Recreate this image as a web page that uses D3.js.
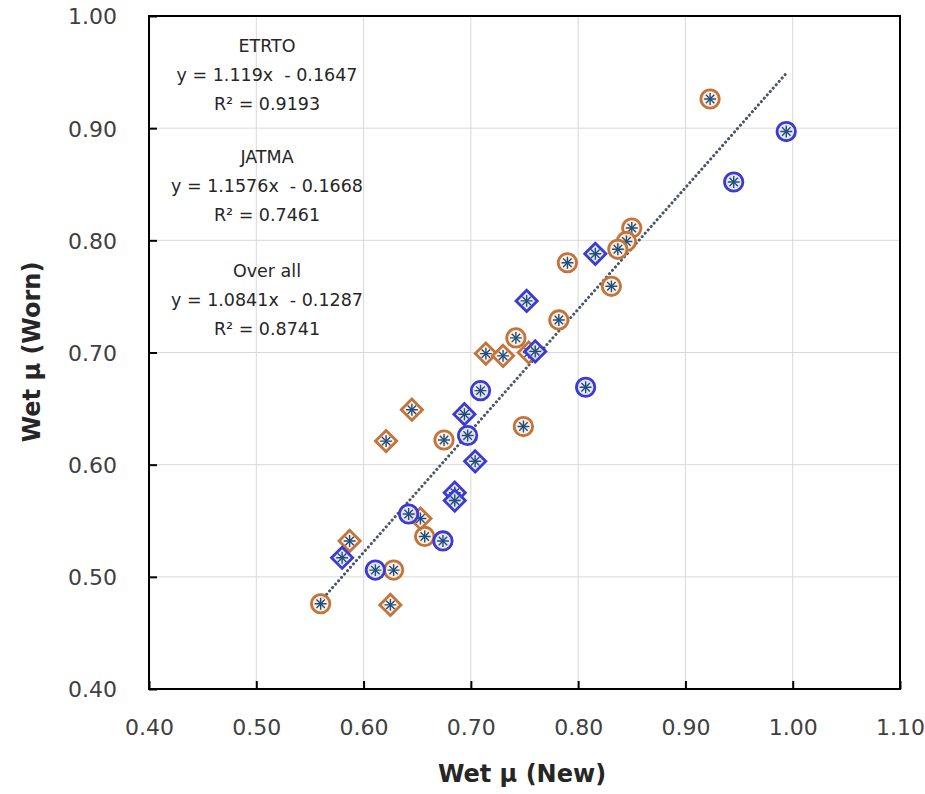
<!DOCTYPE html>
<html>
<head>
<meta charset="utf-8">
<script src="https://cdn.jsdelivr.net/npm/d3@7"></script>
<style>
  html, body { margin: 0; padding: 0; background: #fff; }
  svg { display: block; }
  text { font-family: "DejaVu Sans", sans-serif; }
</style>
</head>
<body>
<svg id="chart" width="925" height="794"></svg>
<script>
// ---- Data ----
const xTicks = [0.40, 0.50, 0.60, 0.70, 0.80, 0.90, 1.00, 1.10];
const yTicks = [0.40, 0.50, 0.60, 0.70, 0.80, 0.90, 1.00];

// Blue circles: [Wet mu (New), Wet mu (Worn)]
const blueCircleX = [0.709, 0.697, 0.642, 0.674, 0.611, 0.807, 0.994, 0.945];
const blueCircleY = [0.666, 0.626, 0.556, 0.532, 0.506, 0.669, 0.897, 0.852];

// Blue diamonds
const blueDiamondX = [0.694, 0.704, 0.685, 0.685, 0.580, 0.816, 0.752, 0.760];
const blueDiamondY = [0.645, 0.603, 0.575, 0.568, 0.517, 0.788, 0.746, 0.701];

// Orange circles
const orangeCircleX = [0.675, 0.749, 0.657, 0.628, 0.560, 0.850, 0.845, 0.837, 0.790, 0.831, 0.782, 0.742, 0.923];
const orangeCircleY = [0.622, 0.634, 0.536, 0.506, 0.476, 0.811, 0.799, 0.792, 0.780, 0.759, 0.729, 0.713, 0.926];

// Orange diamonds
const orangeDiamondX = [0.645, 0.621, 0.653, 0.587, 0.625, 0.714, 0.730, 0.754];
const orangeDiamondY = [0.649, 0.621, 0.552, 0.532, 0.475, 0.699, 0.697, 0.700];

// Regression annotations
const fitNames = ["ETRTO", "JATMA", "Over all"];
const fitEquations = ["y = 1.119x \u00A0- 0.1647", "y = 1.1576x \u00A0- 0.1668", "y = 1.0841x \u00A0- 0.1287"];
const fitR2 = ["R\u00B2 = 0.9193", "R\u00B2 = 0.7461", "R\u00B2 = 0.8741"];
const overallSlope = 1.0841;
const overallIntercept = -0.1287;

const xTitle = "Wet \u03BC (New)";
const yTitle = "Wet \u03BC (Worn)";

// ---- Drawing ----
(function () {
const svg = d3.select("#chart");
const pL = 149, pR = 900, pT = 16, pB = 689;

const x = d3.scaleLinear().domain([0.4, 1.1]).range([pL, pR]);
const y = d3.scaleLinear().domain([0.4, 1.0]).range([pB, pT]);

// gridlines
const grid = svg.append("g");
grid.selectAll("line.gx").data(xTicks.slice(1, -1)).join("line")
  .attr("class", "gx")
  .attr("x1", d => x(d)).attr("x2", d => x(d))
  .attr("y1", pT).attr("y2", pB)
  .attr("stroke", "#d9d9d9").attr("stroke-width", 1);
grid.selectAll("line.gy").data(yTicks.slice(1, -1)).join("line")
  .attr("class", "gy")
  .attr("x1", pL).attr("x2", pR)
  .attr("y1", d => y(d)).attr("y2", d => y(d))
  .attr("stroke", "#d9d9d9").attr("stroke-width", 1);

// axes with inward ticks
const xAxis = d3.axisBottom(x).tickValues(xTicks).tickSize(-8).tickPadding(30)
  .tickFormat(d3.format(".2f"));
const yAxis = d3.axisLeft(y).tickValues(yTicks).tickSize(-8).tickPadding(32)
  .tickFormat(d3.format(".2f"));

const gx = svg.append("g").attr("transform", `translate(0,${pB})`).call(xAxis);
const gy = svg.append("g").attr("transform", `translate(${pL},0)`).call(yAxis);
[gx, gy].forEach(g => {
  g.select(".domain").remove();
  g.selectAll(".tick line").attr("stroke", "#000").attr("stroke-width", 2);
  g.selectAll(".tick text")
    .attr("fill", "#404040")
    .style("font-size", "22px")
    .style("font-family", "'DejaVu Sans', sans-serif");
});
gx.selectAll(".tick text").attr("dy", "0.71em").attr("y", 30);
gy.selectAll(".tick text").attr("dy", "0.36em");

// frame
svg.append("rect")
  .attr("x", pL).attr("y", pT)
  .attr("width", pR - pL).attr("height", pB - pT)
  .attr("fill", "none").attr("stroke", "#000").attr("stroke-width", 2);

// overall trend line (dotted)
const allX = [].concat(blueCircleX, blueDiamondX, orangeCircleX, orangeDiamondX);
const xMin = d3.min(allX), xMax = d3.max(allX);
svg.append("line")
  .attr("x1", x(xMin)).attr("y1", y(overallSlope * xMin + overallIntercept))
  .attr("x2", x(xMax)).attr("y2", y(overallSlope * xMax + overallIntercept))
  .attr("stroke", "#4a5566").attr("stroke-width", 3)
  .attr("stroke-linecap", "round")
  .attr("stroke-dasharray", "0.1 4.4");

// markers
const circleSym = d3.symbol().type(d3.symbolCircle).size(Math.PI * 9.2 * 9.2);
const squareSym = d3.symbol().type(d3.symbolSquare).size(15 * 15);
const plusSym = d3.symbol().type(d3.symbolPlus).size(48);
const timesSym = d3.symbol().type(d3.symbolTimes).size(48);

function drawSeries(xs, ys, shape, stroke, fill) {
  const pts = xs.map((v, i) => ({ x: v, y: ys[i] }));
  const g = svg.append("g");
  const m = g.selectAll("g").data(pts).join("g")
    .attr("transform", d => `translate(${x(d.x)},${y(d.y)})`);
  m.append("path")
    .attr("d", shape === "circle" ? circleSym() : squareSym())
    .attr("transform", shape === "circle" ? null : "rotate(45)")
    .attr("fill", fill).attr("fill-opacity", 0.85)
    .attr("stroke", stroke).attr("stroke-width", 2.8);
  m.append("path").attr("d", plusSym())
    .attr("fill", "none").attr("stroke", "#1f4e79").attr("stroke-width", 1.4);
  m.append("path").attr("d", timesSym())
    .attr("fill", "none").attr("stroke", "#1f4e79").attr("stroke-width", 1.4);
}

const blue = "#3b3bd2", blueFill = "#e3e3f8";
const orange = "#c2743a", orangeFill = "#fbece2";
drawSeries(orangeCircleX, orangeCircleY, "circle", orange, orangeFill);
drawSeries(orangeDiamondX, orangeDiamondY, "diamond", orange, orangeFill);
drawSeries(blueCircleX, blueCircleY, "circle", blue, blueFill);
drawSeries(blueDiamondX, blueDiamondY, "diamond", blue, blueFill);

// annotations
const annBase = [52, 163, 277];
const ann = svg.append("g").attr("fill", "#262626")
  .style("font-size", "17.5px");
fitNames.forEach((name, i) => {
  const cx = 267, b = annBase[i];
  ann.append("text").attr("x", cx).attr("y", b).attr("text-anchor", "middle").text(name);
  ann.append("text").attr("x", cx).attr("y", b + 29).attr("text-anchor", "middle").text(fitEquations[i]);
  ann.append("text").attr("x", cx).attr("y", b + 58).attr("text-anchor", "middle").text(fitR2[i]);
});

// axis titles
svg.append("text")
  .attr("x", 522).attr("y", 782)
  .attr("text-anchor", "middle")
  .attr("fill", "#262626")
  .style("font-size", "24px").style("font-weight", "bold")
  .text(xTitle);
svg.append("text")
  .attr("transform", `translate(31,352) rotate(-90)`)
  .attr("text-anchor", "middle")
  .attr("dy", "0.36em")
  .attr("fill", "#262626")
  .style("font-size", "24px").style("font-weight", "bold")
  .text(yTitle);
})();
</script>
</body>
</html>
